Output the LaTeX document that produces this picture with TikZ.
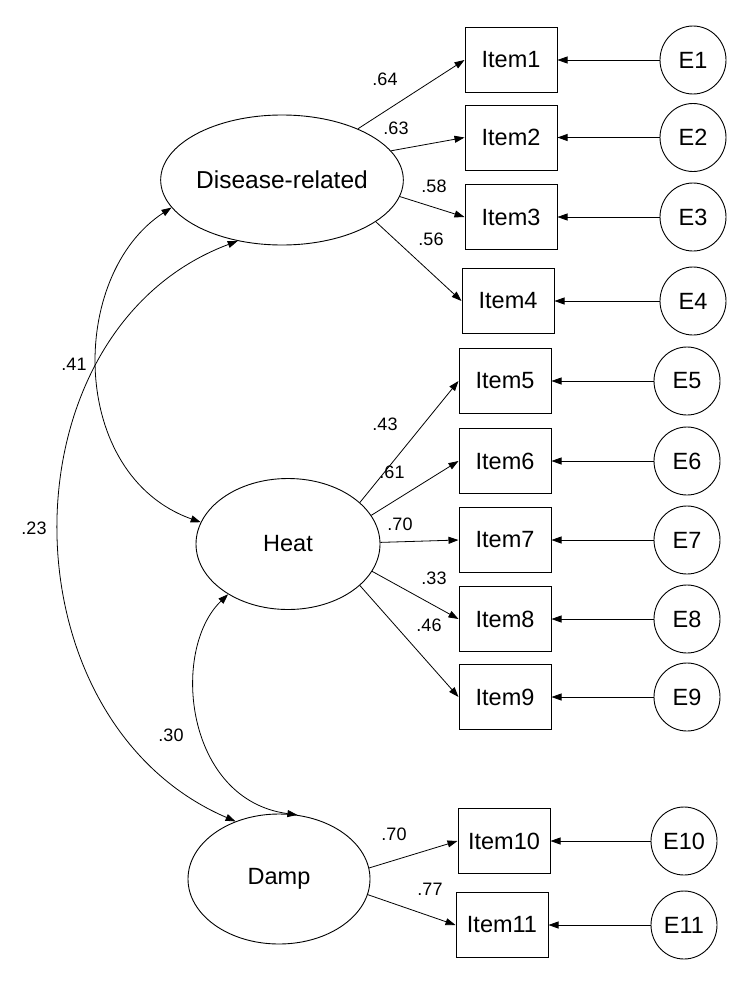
\documentclass[tikz,border=0pt]{standalone}
\usepackage{fontspec}
\setmainfont{Liberation Sans}
\usetikzlibrary{shapes.geometric,arrows.meta}
\tikzset{
  itembox/.style={draw, rectangle, minimum width=92pt, minimum height=65pt, inner sep=0pt, line width=1pt, font=\fontsize{23.5}{27}\selectfont},
  errnode/.style={draw, ellipse, minimum width=66pt, minimum height=68pt, inner sep=0pt, line width=0.9pt, font=\fontsize{23.5}{27}\selectfont},
  latent/.style={draw, ellipse, minimum width=182pt, minimum height=130pt, inner sep=0pt, line width=0.9pt, font=\fontsize{23.5}{27}\selectfont},
  lbl/.style={inner sep=0pt, font=\fontsize{18}{21}\selectfont},
  arr/.style={line width=0.8pt, -{Triangle[length=10pt,width=7pt]}},
  biarr/.style={line width=0.8pt, {Triangle[length=10pt,width=7pt]}-{Triangle[length=10pt,width=7pt]}}
}
\begin{document}
\begin{tikzpicture}[x=1pt,y=-1pt]
\useasboundingbox (0,0) rectangle (748,988);
% latent variables
\node[latent, font=\fontsize{24.5}{27}\selectfont] (dr) at (282,180) {Disease-related};
\node[latent, minimum width=184pt, minimum height=131pt] (heat) at (288,544) {Heat};
\node[latent] (damp) at (279,879) {Damp};
% items
\node[itembox] (i1) at (511,60) {Item1};
\node[itembox] (i2) at (511,137.5) {Item2};
\node[itembox] (i3) at (511,217) {Item3};
\node[itembox] (i4) at (508,301) {Item4};
\node[itembox] (i5) at (505,381) {Item5};
\node[itembox] (i6) at (505,461) {Item6};
\node[itembox] (i7) at (505,540) {Item7};
\node[itembox] (i8) at (505,619) {Item8};
\node[itembox] (i9) at (505,697) {Item9};
\node[itembox] (i10) at (504,841) {Item10};
\node[itembox] (i11) at (502,925) {Item11};
% errors
\node[errnode] (e1) at (693,60) {E1};
\node[errnode] (e2) at (693,137.5) {E2};
\node[errnode] (e3) at (693,217) {E3};
\node[errnode] (e4) at (693,301) {E4};
\node[errnode] (e5) at (687,381) {E5};
\node[errnode] (e6) at (687,461) {E6};
\node[errnode] (e7) at (687,540) {E7};
\node[errnode] (e8) at (687,619) {E8};
\node[errnode] (e9) at (687,697) {E9};
\node[errnode] (e10) at (684,841) {E10};
\node[errnode] (e11) at (684,925) {E11};
% error arrows
\foreach \k in {1,...,11} {\draw[arr] (e\k) -- (i\k);}
% loadings
\draw[arr] (dr.34) -- (i1.west);
\draw[arr] (dr.15) -- (i2.west);
\draw[arr] (dr.-8) -- (i3.west);
\draw[arr] (dr.-24) -- (i4.west);
\draw[arr] (heat.30) -- (i5.west);
\draw[arr] (heat.19) -- (i6.west);
\draw[arr] (heat.1) -- (i7.west);
\draw[arr] (heat.-18) -- (i8.west);
\draw[arr] (heat.-30) -- (i9.west);
\draw[arr] (damp.7.5) -- (i10.west);
\draw[arr] (damp.-10) -- (i11.west);
% covariances
\draw[biarr] (dr.194) .. controls (68,275) and (68,475) .. (heat.166);
\draw[biarr] (dr.234) .. controls (0,330) and (0,720) .. (damp.127);
\draw[biarr] (heat.220) .. controls (170,650) and (185,800) .. (damp.74);
% labels
\node[lbl] (l1) at (385,79) {.64};
\node[lbl] (l2) at (396,128) {.63};
\node[lbl] (l3) at (434,186) {.58};
\node[lbl] (l4) at (431,239) {.56};
\node[lbl] (l5) at (385,424) {.43};
\node[lbl] (l6) at (392,472) {.61};
\node[lbl] (l7) at (400,524) {.70};
\node[lbl] (l8) at (434,578) {.33};
\node[lbl] (l9) at (429,625) {.46};
\node[lbl] (l10) at (394,834) {.70};
\node[lbl] (l11) at (430,889) {.77};
\node[lbl] (c1) at (74,364) {.41};
\node[lbl] (c2) at (34,528) {.23};
\node[lbl] (c3) at (171,735) {.30};
\end{tikzpicture}
\end{document}
